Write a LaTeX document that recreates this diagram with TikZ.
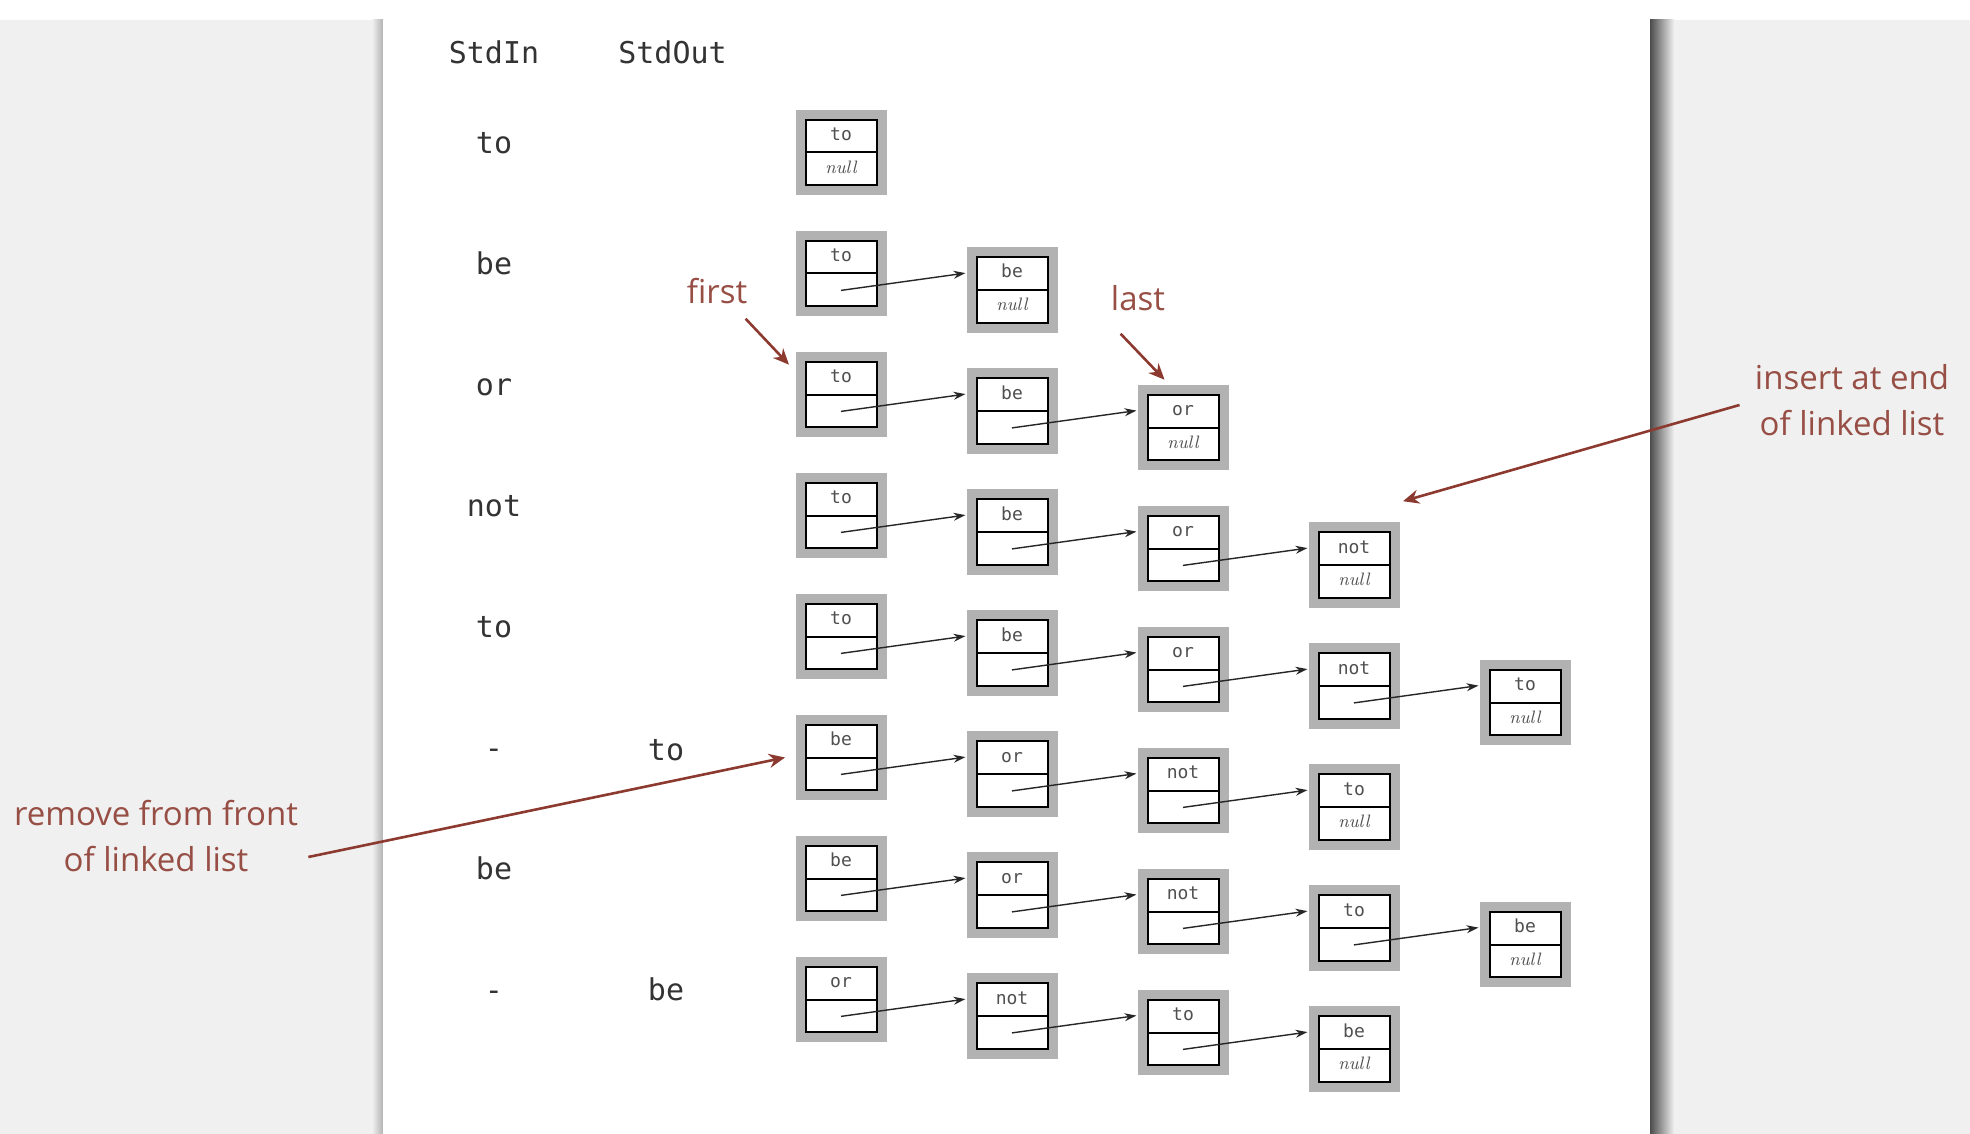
\documentclass[tikz,border=0pt]{standalone}
\usepackage{fontspec}
\setmonofont{DejaVu Sans Mono}
\newfontfamily\notefont{Open Sans}
\usetikzlibrary{arrows.meta,calc,shapes.multipart}

\definecolor{backgray}{RGB}{240,240,240}
\definecolor{boxgray}{RGB}{178,178,178}
\definecolor{notered}{RGB}{140,58,48}
\definecolor{inkgray}{RGB}{80,80,80}

\tikzset{
  cell/.style={rectangle split, rectangle split parts=2, draw=black, line width=1pt,
    fill=white, minimum width=35.5pt, inner xsep=0pt, inner ysep=2.2pt, text=inkgray,
    font=\ttfamily\fontsize{9}{11}\selectfont,
    preaction={draw=boxgray, line width=10pt}},
  link/.style={-{Stealth[length=6pt,width=4pt]}, line width=0.7pt, black!85},
  note/.style={text=notered!90, inner sep=0pt, align=center,
    font=\notefont\fontsize{16.5}{23}\selectfont},
  pointer/.style={-{Stealth[length=8pt,width=7pt]}, line width=1.3pt, notered},
  io/.style={font=\ttfamily\fontsize{15}{18}\selectfont, text=black!80, anchor=base},
}

\begin{document}
\begin{tikzpicture}[x=0.5pt,y=-0.5pt]
  \useasboundingbox (0,0) rectangle (1970,1134);
  % page and sheet
  \fill[white] (0,0) rectangle (1970,1134);
  \fill[backgray] (0,20) rectangle (1970,1134);
  \shade[left color=backgray, right color=black!30] (372,20) rectangle (383,1134);
  \shade[left color=black!70, right color=backgray] (1650,20) rectangle (1674,1134);
  \fill[white] (383,20) rectangle (1650,1134);

  % input / output columns
  \node[io] (hin) at (494,63.5) {StdIn};
  \node[io] (hout) at (672.5,63.5) {StdOut};
  \foreach \row/\w in {0/to,1/be,2/or,3/not,4/to,5/-,6/be,7/-}
    \node[io] (in\row) at (494,{153.5+121*\row}) {\w};
  \node[io] (out5) at (666,760) {to};
  \node[io] (out7) at (666,1000.5) {be};

  % the list after each operation
  \foreach \row/\tail/\items in {0/0/{to},1/1/{to,be},2/2/{to,be,or},
      3/3/{to,be,or,not},4/4/{to,be,or,not,to},5/3/{be,or,not,to},
      6/4/{be,or,not,to,be},7/3/{or,not,to,be}}
  {
    \foreach \w [count=\col from 0, remember=\col as \prev (initially 0)] in \items
    {
      \node[cell] (n\row-\col) at ({841+171*\col},{152.5+121*\row+16.5*\col})
        {\strut\w\nodepart{two}\strut\ifnum\col=\tail{\rmfamily\itshape null}\fi};
      \ifnum\col>0
        \draw[link] ($(n\row-\prev.center)!.5!(n\row-\prev.south)$)
          -- ($(n\row-\col.north west)!.25!(n\row-\col.south west)+(-10,0)$);
      \fi
    }
  }

  % annotations
  \node[note, anchor=base] (first) at (717,303) {first};
  \node[note, anchor=base] (last) at (1138,310) {last};
  \node[note] (insert) at (1852,400) {insert at end\\of linked list};
  \node[note] (remove) at (156,836) {remove from front\\of linked list};

  \draw[pointer] ($(first.south east)+(-2,15)$) -- ($(n2-0.north west)+(-15.5,4)$);
  \draw[pointer] ($(last.south west)+(10,23)$) -- ($(n2-2.north west)+(18,-14)$);
  \draw[pointer] ($(insert.west)+(-15,5)$) -- ($(n3-3.north east)+(12.5,-30)$);
  \draw[pointer] ($(remove.east)+(10,21)$) -- ($(n5-0.west)+(-19.5,0)$);
\end{tikzpicture}
\end{document}
